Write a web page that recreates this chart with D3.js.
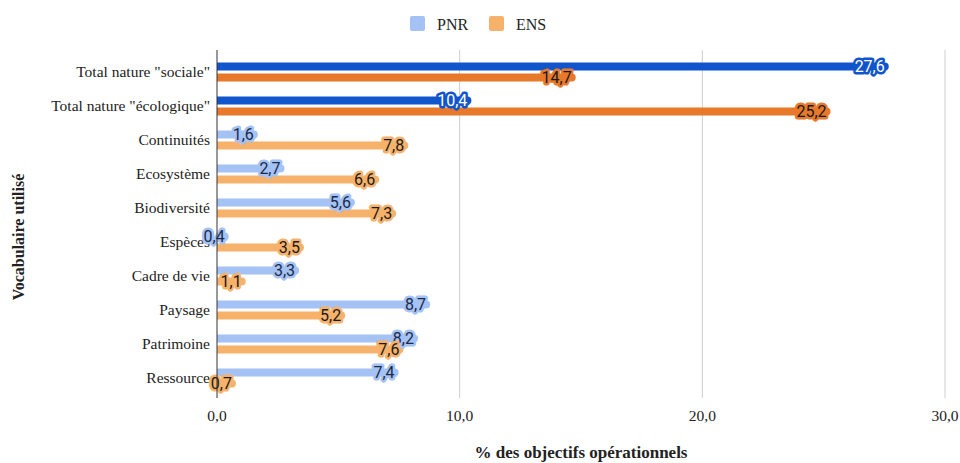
<!DOCTYPE html>
<html>
<head>
<meta charset="utf-8">
<script src="https://cdn.jsdelivr.net/npm/d3@7"></script>
<style>
  body { margin: 0; background: #fff; }
  svg { display: block; }
  .serif { font-family: "Liberation Serif", "DejaVu Serif", serif; fill: #222; }
  .val { font-family: Roboto, "Liberation Sans", sans-serif; font-size: 16px; }
</style>
</head>
<body>
<div id="chart"></div>
<script>
// data
const categories = ['Total nature "sociale"', 'Total nature "écologique"', 'Continuités', 'Ecosystème',
  'Biodiversité', 'Espèces', 'Cadre de vie', 'Paysage', 'Patrimoine', 'Ressource'];
const pnrValues = [27.6, 10.4, 1.6, 2.7, 5.6, 0.4, 3.3, 8.7, 8.2, 7.4];
const ensValues = [14.7, 25.2, 7.8, 6.6, 7.3, 3.5, 1.1, 5.2, 7.6, 0.7];
const seriesNames = ['PNR', 'ENS'];
const xTicks = [0, 10, 20, 30];

const width = 960;
const height = 463;
const marginLeft = 217;
const marginTop = 55;
const plotBottom = 395;

const colors = { PNR: '#a4c2f4', ENS: '#f6b26b' };
const darkColors = { PNR: '#1155cc', ENS: '#e8792b' };
const fmt = v => d3.format('.1f')(v).replace('.', ',');

const svg = d3.select('#chart').append('svg')
  .attr('width', width)
  .attr('height', height);

const x = d3.scaleLinear().domain([0, 30]).range([marginLeft, 945]);
const y = d3.scaleBand().domain(categories).range([marginTop, plotBottom]);
// blue above the row centre, orange below
const ySub = d3.scaleBand().domain(seriesNames).range([y.bandwidth() / 2 - 11, y.bandwidth() / 2 + 11]);

// grid
svg.append('g')
  .selectAll('line')
  .data(xTicks.slice(1))
  .enter()
  .append('line')
  .attr('x1', d => x(d)).attr('x2', d => x(d))
  .attr('y1', 50).attr('y2', 398)
  .attr('stroke', '#cccccc')
  .attr('stroke-width', 1);

// tick labels
svg.append('g')
  .selectAll('text')
  .data(xTicks)
  .enter()
  .append('text')
  .attr('class', 'serif')
  .attr('x', d => x(d))
  .attr('y', 421)
  .attr('text-anchor', 'middle')
  .style('font-size', '15.5px')
  .text(d => fmt(d));

// category labels
svg.append('g')
  .selectAll('text')
  .data(categories)
  .enter()
  .append('text')
  .attr('class', 'serif')
  .attr('x', marginLeft - 7)
  .attr('y', d => y(d) + y.bandwidth() / 2)
  .attr('dy', '0.35em')
  .attr('text-anchor', 'end')
  .style('font-size', '15.5px')
  .text(d => d);

// bars
const rows = categories.map((c, i) => ({
  cat: c,
  idx: i,
  values: [{ key: 'PNR', v: pnrValues[i] }, { key: 'ENS', v: ensValues[i] }]
}));

const barH = 8;
const rounded = (x0, x1, yy, h) => {
  const r = Math.min(h / 2, Math.max(0, x1 - x0));
  return `M${x0},${yy}H${x1 - r}A${r},${r} 0 0 1 ${x1},${yy + r}V${yy + h - r}A${r},${r} 0 0 1 ${x1 - r},${yy + h}H${x0}Z`;
};
const subMid = key => ySub(key) + ySub.bandwidth() / 2;

const group = svg.append('g')
  .selectAll('g')
  .data(rows)
  .enter()
  .append('g')
  .attr('transform', d => `translate(0,${y(d.cat)})`);

group.selectAll('path')
  .data(d => d.values.map(v => Object.assign({ idx: d.idx }, v)))
  .enter()
  .append('path')
  .attr('d', d => rounded(x(0), x(d.v) + 2, subMid(d.key) - barH / 2, barH))
  .attr('fill', d => d.idx < 2 ? darkColors[d.key] : colors[d.key]);

// axis line
svg.append('line')
  .attr('x1', x(0)).attr('x2', x(0))
  .attr('y1', 50).attr('y2', 398)
  .attr('stroke', '#333')
  .attr('stroke-width', 1);

// value labels with halo
const labels = group.selectAll('g.lab')
  .data(d => d.values.map(v => Object.assign({ idx: d.idx }, v)))
  .enter()
  .append('g')
  .attr('class', 'lab');

labels.append('text')
  .attr('class', 'val')
  .attr('x', d => x(d.v) - 2)
  .attr('y', d => subMid(d.key))
  .attr('dy', '0.36em')
  .attr('text-anchor', 'end')
  .attr('stroke', d => d.idx < 2 ? darkColors[d.key] : colors[d.key])
  .attr('stroke-width', 5)
  .attr('stroke-linejoin', 'round')
  .attr('fill', 'none')
  .text(d => fmt(d.v));

labels.append('text')
  .attr('class', 'val')
  .attr('x', d => x(d.v) - 2)
  .attr('y', d => subMid(d.key))
  .attr('dy', '0.36em')
  .attr('text-anchor', 'end')
  .attr('fill', d => {
    if (d.idx < 2 && d.key === 'PNR') return '#ffffff';
    return d.key === 'PNR' ? '#1b2a4a' : '#1a1a1a';
  })
  .text(d => fmt(d.v));

// legend
const legend = svg.append('g')
  .selectAll('g')
  .data(seriesNames)
  .enter()
  .append('g')
  .attr('transform', (d, i) => `translate(${410 + i * 79},16)`);

legend.append('rect')
  .attr('width', 15).attr('height', 15)
  .attr('rx', 2)
  .attr('fill', d => colors[d]);

legend.append('text')
  .attr('class', 'serif')
  .attr('x', 27)
  .attr('y', 8)
  .attr('dy', '0.35em')
  .style('font-size', '16px')
  .text(d => d);

// axis titles
svg.append('text')
  .attr('class', 'serif')
  .attr('x', x(15))
  .attr('y', 458)
  .attr('text-anchor', 'middle')
  .style('font-size', '17px')
  .style('font-weight', 'bold')
  .text('% des objectifs opérationnels');

svg.append('text')
  .attr('class', 'serif')
  .attr('transform', 'translate(24,237) rotate(-90)')
  .attr('text-anchor', 'middle')
  .style('font-size', '16px')
  .style('font-weight', 'bold')
  .text('Vocabulaire utilisé');
</script>
</body>
</html>
